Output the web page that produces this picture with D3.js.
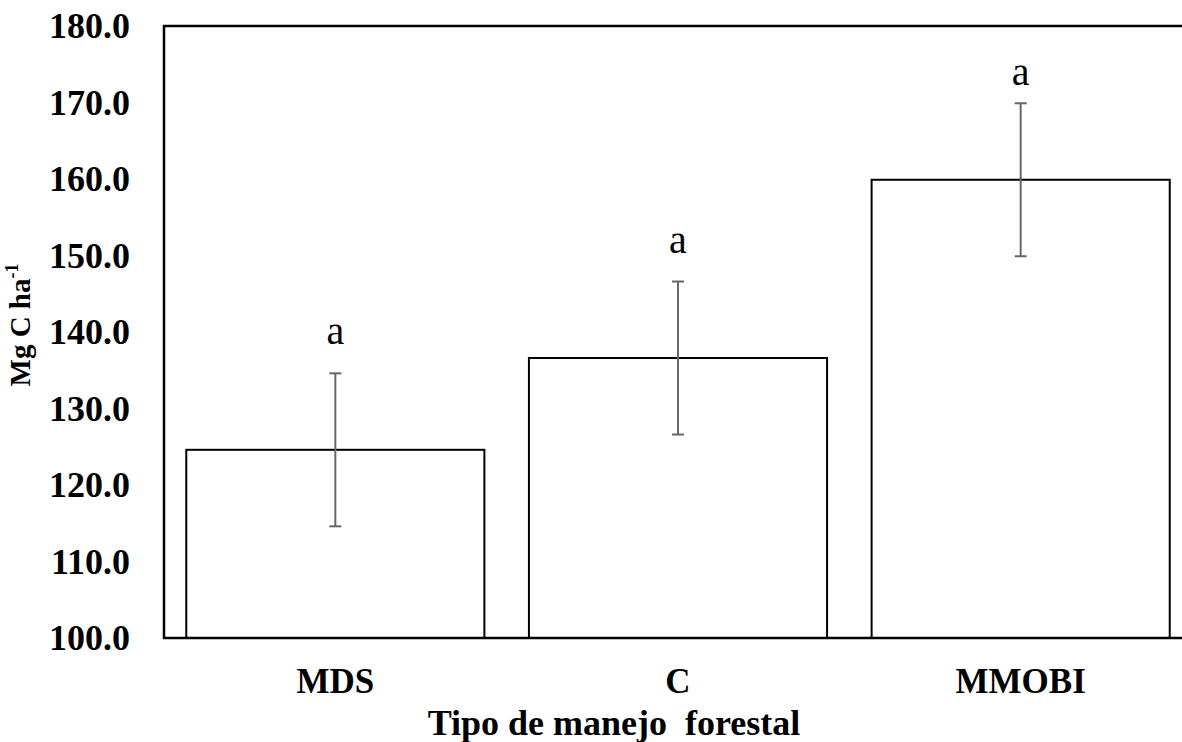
<!DOCTYPE html>
<html>
<head>
<meta charset="utf-8">
<script src="https://cdn.jsdelivr.net/npm/d3@7"></script>
<style>
  body { margin: 0; background: #fff; }
  svg text { font-family: "Liberation Serif", "Times New Roman", Times, serif; }
</style>
</head>
<body>
<div id="chart"></div>
<script>
// data
var categories = ["MDS", "C", "MMOBI"];
var means = [124.6, 136.6, 159.9];
var errors = [10.0, 10.0, 10.0];
var letters = ["a", "a", "a"];
var letterAt = [138.4, 150.3, 172.3]; // where the letter sits, in data units
var yTicks = [100, 110, 120, 130, 140, 150, 160, 170, 180];

var width = 1182, height = 742,
    margin = {top: 26, right: -10, bottom: 104, left: 164};

var svg = d3.select("#chart").append("svg")
    .attr("width", width)
    .attr("height", height);

// scales
var x = d3.scaleBand()
    .domain(categories)
    .range([margin.left, width - margin.right])
    .paddingInner(0.13)
    .paddingOuter(0.065);

var y = d3.scaleLinear()
    .domain([100, 180])
    .range([height - margin.bottom, margin.top]);

// y axis labels
var yAxis = svg.append("g")
    .attr("transform", "translate(" + margin.left + ",0)")
    .call(d3.axisLeft(y).tickValues(yTicks).tickSize(0).tickPadding(34)
        .tickFormat(d3.format(".1f")));
yAxis.attr("font-family", null);
yAxis.select(".domain").remove();
yAxis.selectAll("text")
    .style("font-family", "'Liberation Serif', serif")
    .style("font-size", "36px")
    .style("font-weight", "bold")
    .attr("fill", "#000");

// x axis labels
var xAxis = svg.append("g")
    .attr("transform", "translate(0," + (height - margin.bottom) + ")")
    .call(d3.axisBottom(x).tickSize(0).tickPadding(30));
xAxis.attr("font-family", null);
xAxis.select(".domain").remove();
xAxis.selectAll("text")
    .style("font-family", "'Liberation Serif', serif")
    .style("font-size", "35px")
    .style("font-weight", "bold")
    .attr("fill", "#000");

// bars
svg.selectAll("rect.bar")
    .data(means)
    .enter().append("rect")
    .attr("class", "bar")
    .attr("x", function(d, i) { return x(categories[i]); })
    .attr("y", function(d) { return y(d); })
    .attr("width", x.bandwidth())
    .attr("height", function(d) { return y(100) - y(d); })
    .attr("fill", "#fff")
    .attr("stroke", "#000")
    .attr("stroke-width", 2);

// error bars
var cx = function(i) { return x(categories[i]) + x.bandwidth() / 2; };
var eb = svg.selectAll("g.err")
    .data(means)
    .enter().append("g")
    .attr("class", "err")
    .attr("stroke", "#666")
    .attr("stroke-width", 2);
eb.append("line")
    .attr("x1", function(d, i) { return cx(i); })
    .attr("x2", function(d, i) { return cx(i); })
    .attr("y1", function(d, i) { return y(d + errors[i]); })
    .attr("y2", function(d, i) { return y(d - errors[i]); });
eb.append("line")
    .attr("x1", function(d, i) { return cx(i) - 6; })
    .attr("x2", function(d, i) { return cx(i) + 6; })
    .attr("y1", function(d, i) { return y(d + errors[i]); })
    .attr("y2", function(d, i) { return y(d + errors[i]); });
eb.append("line")
    .attr("x1", function(d, i) { return cx(i) - 6; })
    .attr("x2", function(d, i) { return cx(i) + 6; })
    .attr("y1", function(d, i) { return y(d - errors[i]); })
    .attr("y2", function(d, i) { return y(d - errors[i]); });

// significance letters
svg.selectAll("text.letter")
    .data(letters)
    .enter().append("text")
    .attr("class", "letter")
    .attr("x", function(d, i) { return cx(i); })
    .attr("y", function(d, i) { return y(letterAt[i]); })
    .attr("text-anchor", "middle")
    .style("font-size", "40px")
    .text(function(d) { return d; });

// plot frame (left, top, bottom)
var x0 = margin.left, x1 = width, y0 = y(180), y1 = y(100);
svg.append("path")
    .attr("d", "M" + x1 + "," + y0 + "H" + x0 + "V" + y1 + "H" + x1)
    .attr("fill", "none")
    .attr("stroke", "#000")
    .attr("stroke-width", 2.5);

// axis titles
svg.append("text")
    .attr("transform", "translate(30,325) rotate(-90)")
    .attr("text-anchor", "middle")
    .style("font-size", "29px")
    .style("font-weight", "bold")
    .html("Mg C ha<tspan dy='-12' style='font-size:18px'>-1</tspan>");

svg.append("text")
    .attr("x", 614)
    .attr("y", 735)
    .attr("text-anchor", "middle")
    .style("font-size", "36px")
    .style("font-weight", "bold")
    .style("white-space", "pre")
    .text("Tipo de manejo  forestal");
</script>
</body>
</html>
